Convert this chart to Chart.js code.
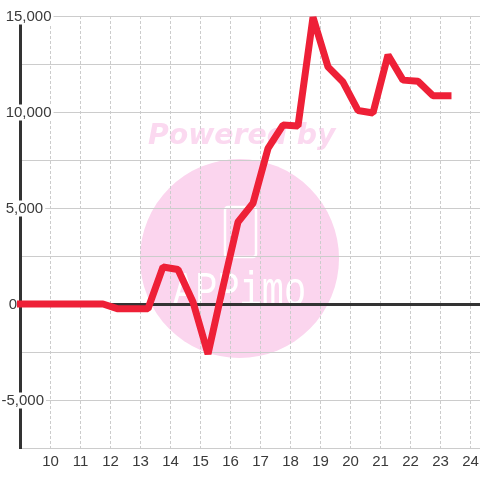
<!DOCTYPE html>
<html>
<head>
<meta charset="utf-8">
<script src="https://cdn.jsdelivr.net/npm/chart.js@4"></script>
<style>
	body { margin: 0; background: #fff; }
	canvas { display: block; }
</style>
</head>
<body>
<canvas id="chart" width="480" height="480"></canvas>
<script>
const hours = [9, 9.25, 9.75, 10.25, 10.75, 11.25, 11.75, 12.25, 12.75, 13.25, 13.75, 14.25, 14.75, 15.25, 15.75, 16.25, 16.75, 17.25, 17.75, 18.25, 18.75, 19.25, 19.75, 20.25, 20.75, 21.25, 21.75, 22.25, 22.75, 23.25];
const values = [0, 0, 0, 0, 0, 0, 0, -250, -250, -250, 1930, 1800, 100, -2600, 900, 4270, 5250, 8100, 9320, 9270, 14930, 12350, 11560, 10080, 9950, 12970, 11660, 11600, 10850, 10850];
const yTickValues = [15000, 10000, 5000, 0, -5000];
const yTickLabels = [" 15,000", " 10,000", " 5,000", " \u20090", "-5,000"];

const watermark = {
	id: "watermark",
	beforeDraw(chart) {
		const ctx = chart.ctx;
		ctx.save();
		ctx.fillStyle = "#fbd5ee";
		ctx.beginPath();
		ctx.arc(239.5, 258.5, 99.5, 0, Math.PI * 2);
		ctx.fill();

		ctx.font = "italic bold 28.3px 'DejaVu Sans'";
		ctx.fillStyle = "#fbd9f0";
		ctx.textBaseline = "alphabetic";
		ctx.fillText("Powered by", 148, 144);

		ctx.strokeStyle = "#fff";
		ctx.lineWidth = 2.5;
		ctx.beginPath();
		ctx.roundRect(225, 207, 31, 50, 3);
		ctx.stroke();

		ctx.fillStyle = "#fff";
		ctx.font = "37px 'Liberation Mono'";
		ctx.translate(173, 305);
		ctx.scale(1, 1.3);
		ctx.fillText("APPimo", 0, 0);
		ctx.restore();
	}
};

new Chart(document.getElementById("chart").getContext("2d"), {
	type: "line",
	data: {
		datasets: [{
			data: hours.map((h, i) => ({ x: h, y: values[i] })),
			borderColor: "#ee2037",
			borderWidth: 7,
			borderJoinStyle: "bevel",
			borderCapStyle: "square",
			pointRadius: 0,
			tension: 0,
			clip: { left: 4, right: 0, top: 8, bottom: 0 }
		}]
	},
	options: {
		responsive: false,
		animation: false,
		layout: { padding: { top: 16 } },
		plugins: { legend: { display: false }, title: { display: false }, tooltip: { enabled: false } },
		scales: {
			x: {
				type: "linear",
				min: 9,
				max: 24.3167,
				afterFit(s) { s.height = 32; s.paddingLeft = 0; s.paddingRight = 0; },
				border: { color: "#ccc", width: 1, dash: [3, 2] },
				grid: {
					color: "#ccc",
					drawTicks: false
				},
				ticks: {
					stepSize: 1,
					autoSkip: false,
					includeBounds: false,
					maxRotation: 0,
					padding: 5,
					color: "#3a3a3a",
					font: { family: "'Liberation Sans'", size: 15 },
					callback: v => (v === 9 ? "" : String(v))
				}
			},
			y: {
				min: -7500,
				max: 15000,
				afterFit(s) { s.width = 20.5; s.paddingTop = 0; s.paddingBottom = 0; },
				border: { color: "#333", width: 3 },
				grid: {
					drawTicks: false,
					color: c => (c.tick.value === 0 ? "#333" : "#ccc"),
					lineWidth: c => (c.tick.value === 0 ? 3 : 1)
				},
				ticks: {
					stepSize: 2500,
					mirror: true,
					padding: -19,
					labelOffset: 1,
					autoSkip: false,
					color: "#3a3a3a",
					font: { family: "'Liberation Sans'", size: 15, lineHeight: 1 },
					showLabelBackdrop: true,
					backdropColor: c => (c.tick && c.tick.label ? "#fff" : "rgba(0,0,0,0)"),
					backdropPadding: { top: 1, bottom: 0, left: 0, right: 2 },
					callback: v => {
						const i = yTickValues.indexOf(v);
						return i < 0 ? "" : yTickLabels[i];
					}
				}
			}
		}
	},
	plugins: [watermark]
});
</script>
</body>
</html>
